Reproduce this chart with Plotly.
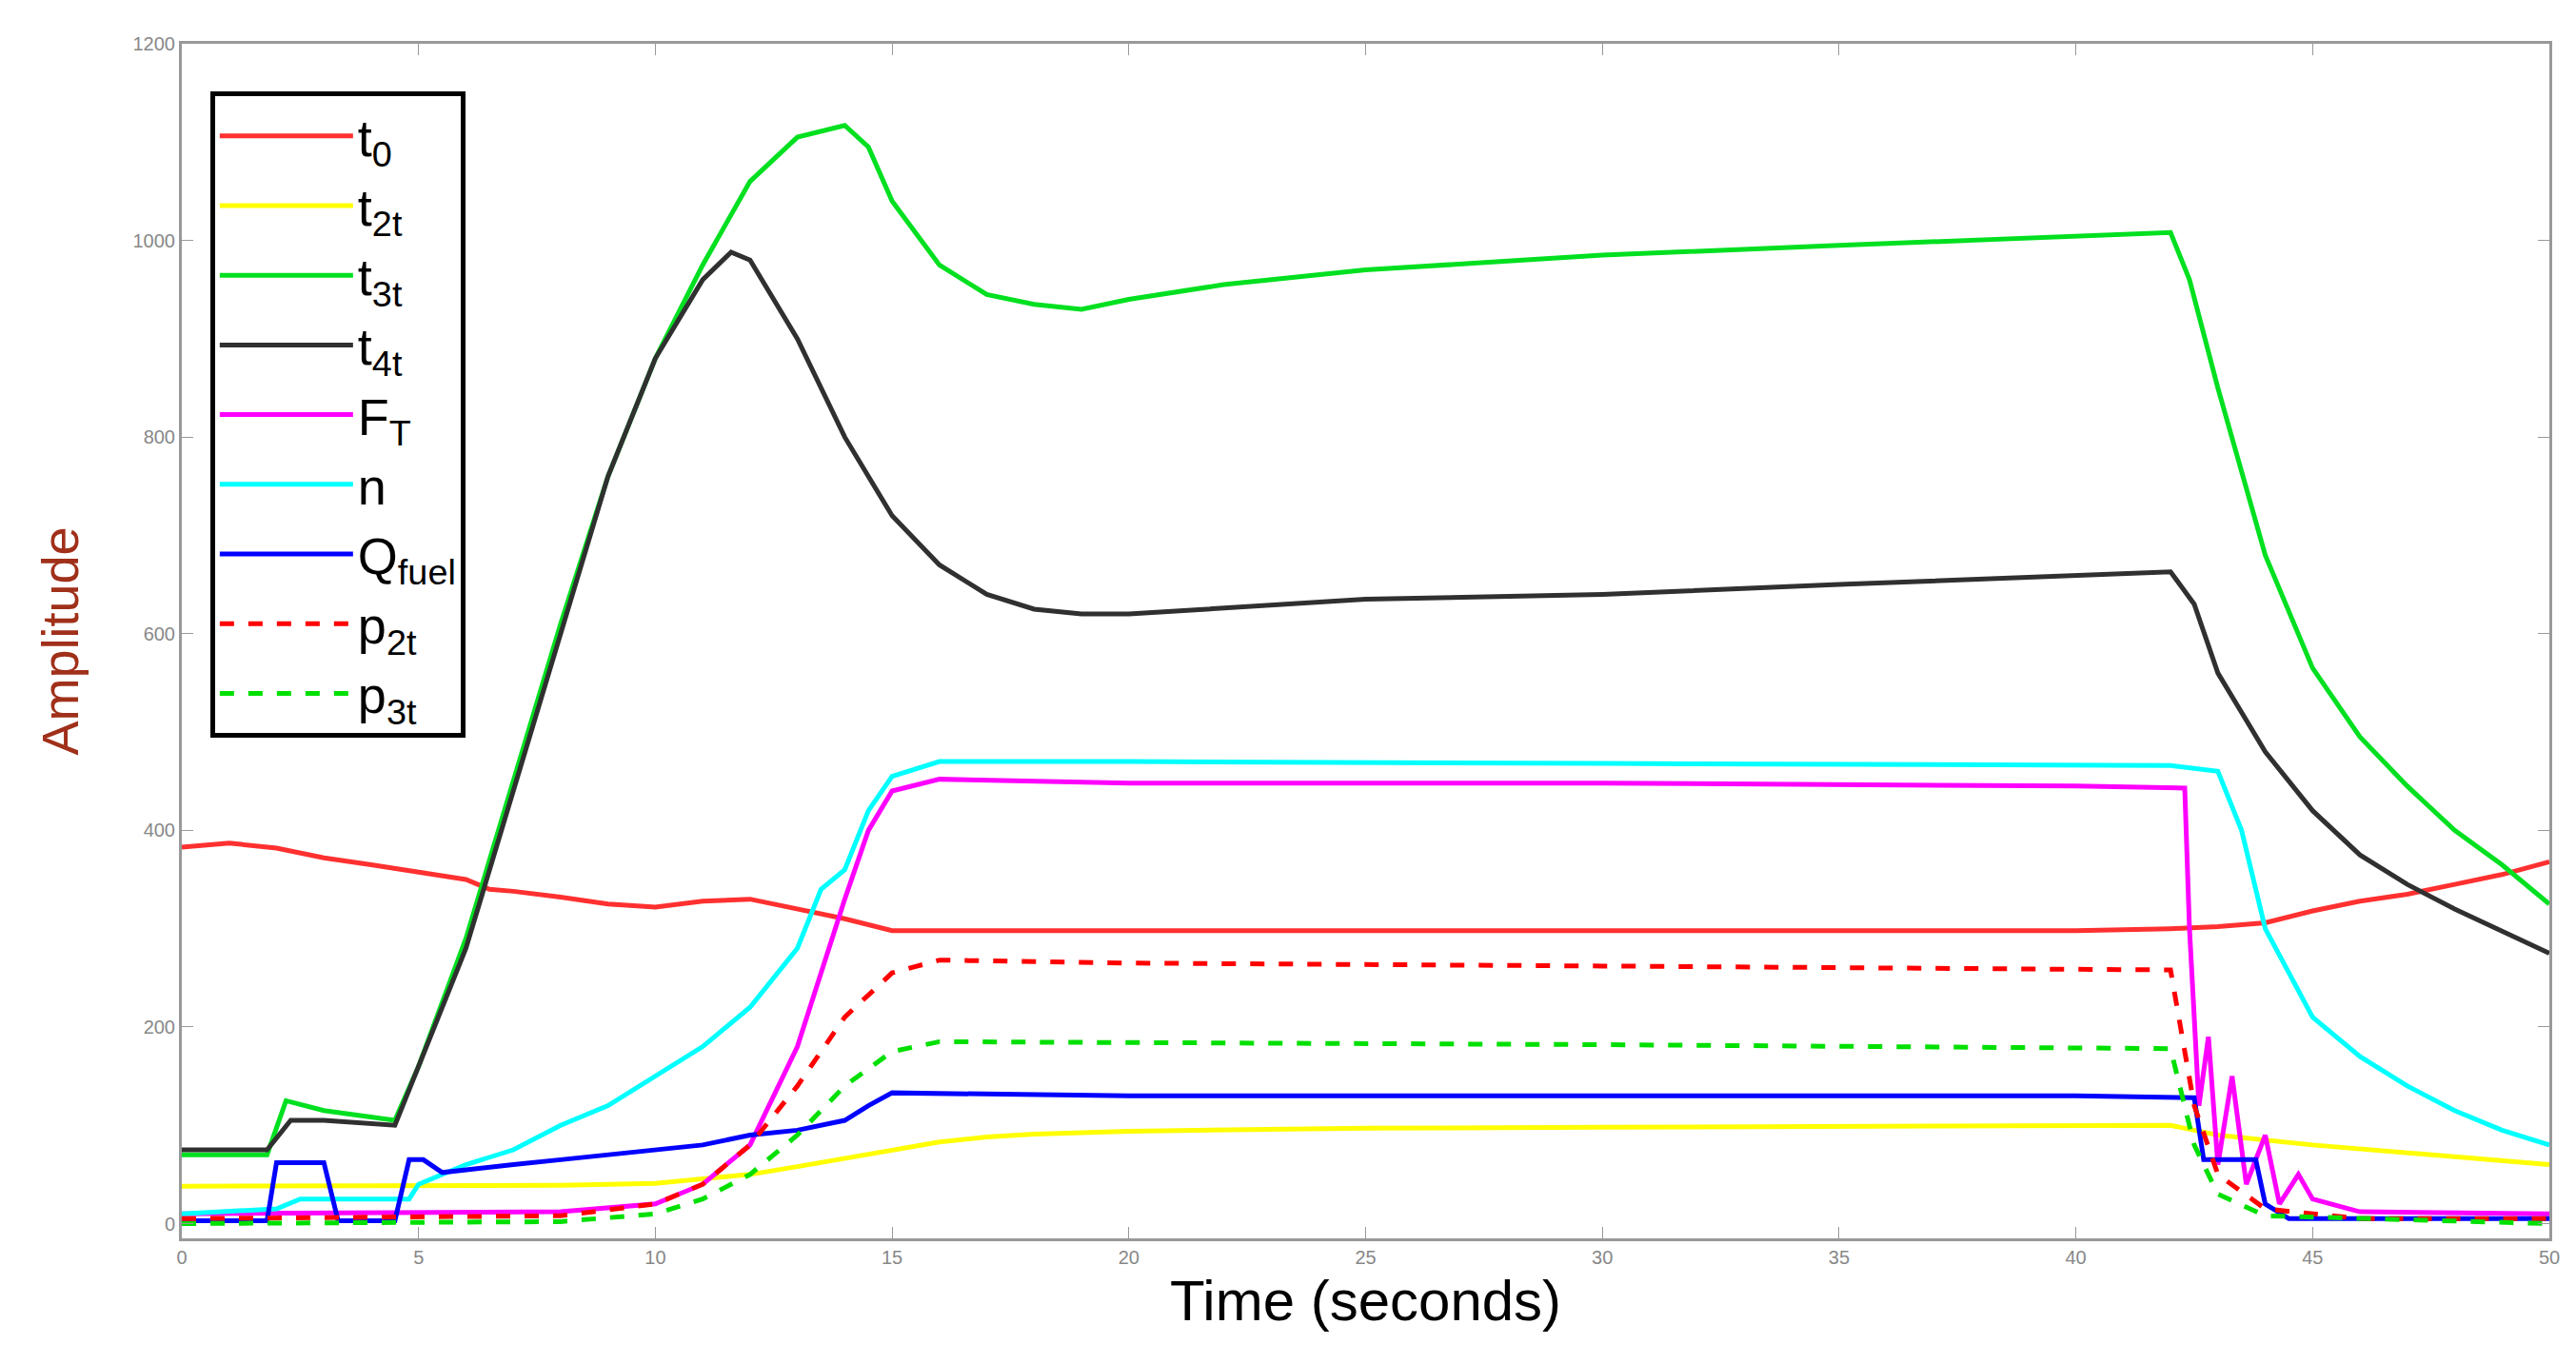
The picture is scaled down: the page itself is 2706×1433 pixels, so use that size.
import plotly.graph_objects as go

# time (s) / value pairs
t0_x = [0, 1, 2, 3, 4, 5, 6, 6.5, 7, 8, 9, 10, 11, 12, 13, 14, 15, 20, 25, 30, 35, 40, 42, 43, 44, 45, 46, 47, 48, 49, 50]
t0_y = [383, 387, 382, 372, 365, 358, 350, 340, 338, 332, 325, 322, 328, 330, 320, 310, 298, 298, 298, 298, 298, 298, 300, 302, 306, 318, 328, 335, 345, 355, 368]

t2_x = [0, 8, 10, 11, 12, 13, 14, 15, 16, 17, 18, 20, 25, 30, 35, 40, 42, 42.5, 43, 45, 48, 50]
t2_y = [38, 39, 41, 45, 50, 58, 66, 75, 83, 88, 91, 94, 97, 98, 99, 100, 100, 95, 90, 80, 68, 60]

t3_x = [0, 1.8, 2.2, 3, 4.5, 5, 6, 7, 8, 9, 10, 11, 12, 13, 14, 14.5, 15, 16, 17, 18, 19, 20, 22, 25, 30, 35, 40, 42, 42.4, 43, 44, 45, 46, 47, 48, 49, 50]
t3_y = [70, 70, 125, 115, 105, 160, 290, 450, 610, 760, 880, 975, 1060, 1105, 1117, 1095, 1040, 975, 945, 935, 930, 940, 955, 970, 985, 995, 1005, 1008, 960, 850, 680, 565, 495, 445, 400, 365, 325]

t4_x = [0, 1.8, 2.3, 3, 4.5, 5, 6, 7, 8, 9, 10, 11, 11.6, 12, 13, 14, 15, 16, 17, 18, 19, 20, 25, 30, 35, 40, 42, 42.5, 43, 44, 45, 46, 47, 48, 49, 50]
t4_y = [75, 75, 105, 105, 100, 160, 280, 440, 600, 760, 880, 960, 988, 980, 900, 800, 720, 670, 640, 625, 620, 620, 635, 640, 650, 660, 663, 630, 560, 480, 420, 375, 345, 320, 298, 275]

ft_x = [0, 8, 10, 11, 12, 13, 14, 14.5, 15, 16, 20, 30, 40, 42.3, 42.4, 42.6, 42.8, 43, 43.3, 43.6, 44, 44.3, 44.7, 45, 46, 50]
ft_y = [10, 12, 20, 40, 80, 180, 330, 400, 440, 452, 448, 448, 445, 443, 300, 120, 190, 60, 150, 40, 90, 20, 50, 25, 12, 10]

n_x = [0, 2, 2.5, 4.8, 5, 6, 7, 8, 9, 10, 11, 12, 13, 13.5, 14, 14.5, 15, 16, 20, 30, 40, 42, 43, 43.5, 44, 45, 46, 47, 48, 49, 50]
n_y = [10, 15, 25, 25, 40, 60, 75, 100, 120, 150, 180, 220, 280, 340, 360, 420, 455, 470, 470, 468, 466, 466, 460, 400, 300, 210, 170, 140, 115, 95, 80]

q_x = [0, 1.8, 2.0, 3.0, 3.3, 4.5, 4.8, 5.1, 5.5, 6, 7, 8, 9, 10, 11, 12, 13, 14, 14.5, 15, 20, 30, 40, 42.5, 42.7, 43.8, 44, 44.5, 50]
q_y = [3, 3, 62, 62, 3, 3, 65, 65, 52, 55, 60, 65, 70, 75, 80, 90, 95, 105, 120, 133, 130, 130, 130, 128, 65, 65, 20, 5, 5]

p2_x = [0, 8, 10, 11, 12, 13, 14, 15, 16, 20, 30, 42, 42.5, 43, 44, 46, 50]
p2_y = [5, 8, 20, 40, 80, 140, 210, 255, 268, 265, 262, 258, 120, 50, 15, 5, 5]

p3_x = [0, 8, 10, 11, 12, 13, 14, 15, 16, 30, 42, 42.5, 43, 44, 50]
p3_y = [0, 2, 10, 25, 50, 90, 140, 175, 185, 182, 178, 80, 30, 8, 0]

series = [
    ("t<sub>0</sub>", t0_x, t0_y, "#ff3030", "solid"),
    ("t<sub>2t</sub>", t2_x, t2_y, "#ffff00", "solid"),
    ("t<sub>3t</sub>", t3_x, t3_y, "#00e020", "solid"),
    ("t<sub>4t</sub>", t4_x, t4_y, "#303030", "solid"),
    ("F<sub>T</sub>", ft_x, ft_y, "#ff00ff", "solid"),
    ("n", n_x, n_y, "#00ffff", "solid"),
    ("Q<sub>fuel</sub>", q_x, q_y, "#0000ff", "solid"),
    ("p<sub>2t</sub>", p2_x, p2_y, "#ff0000", "dash"),
    ("p<sub>3t</sub>", p3_x, p3_y, "#00e000", "dash"),
]

fig = go.Figure()
for name, x, y, color, dash in series:
    fig.add_trace(go.Scatter(x=x, y=y, mode="lines", name=name,
                             line=dict(color=color, width=5, dash=dash)))

axis_common = dict(showgrid=False, zeroline=False, showline=True, linecolor="#999999", linewidth=3,
                   mirror="ticks", ticks="inside", ticklen=12, tickcolor="#999999",
                   tickfont=dict(size=20, color="#888888", family="Liberation Sans"))

fig.update_layout(
    width=2706, height=1433,
    paper_bgcolor="white", plot_bgcolor="white",
    margin=dict(l=183, r=36, t=38, b=140),
    font=dict(family="Liberation Sans"),
    showlegend=True,
    legend=dict(x=0.012, y=0.96, xanchor="left", yanchor="top",
                bordercolor="black", borderwidth=5, bgcolor="white",
                font=dict(size=54, color="black"), itemwidth=140, tracegroupgap=0),
    xaxis=dict(range=[0, 50], dtick=5, title=dict(text="Time (seconds)", font=dict(size=60, color="black"), standoff=14),
               **axis_common),
    yaxis=dict(range=[-15, 1200], dtick=200, title=dict(text="Amplitude", font=dict(size=54, color="#a0301a"), standoff=40),
               **axis_common),
)

fig.write_html("out.html")
